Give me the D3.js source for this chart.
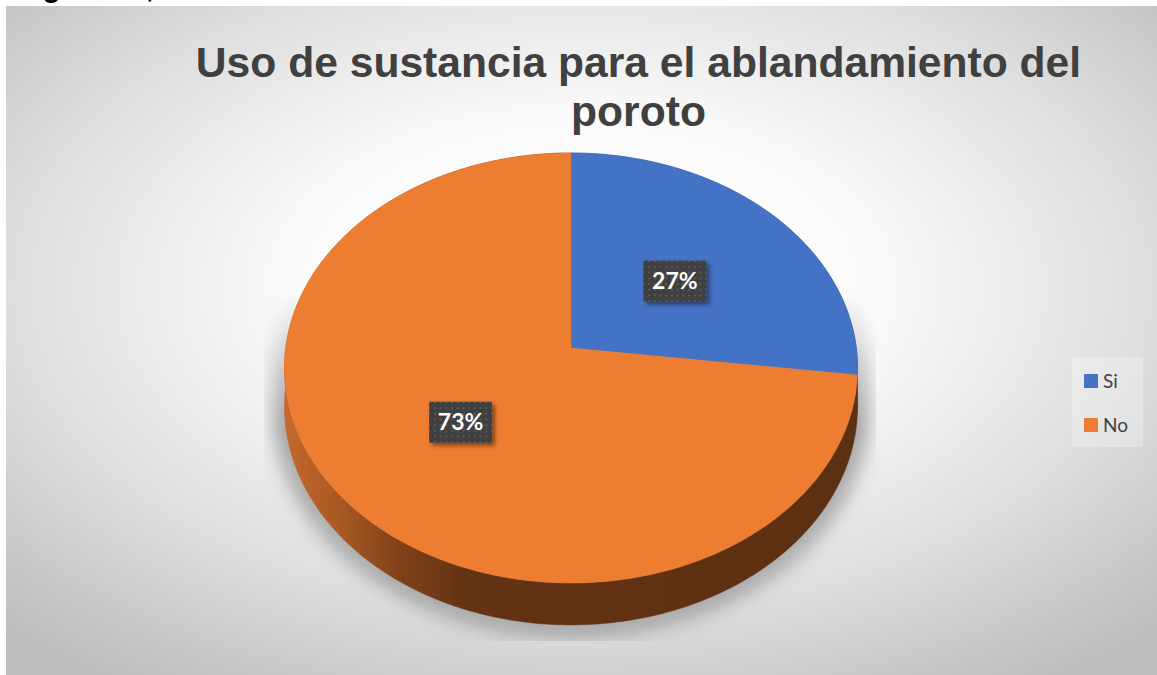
<!DOCTYPE html>
<html>
<head>
<meta charset="utf-8">
<script src="https://cdn.jsdelivr.net/npm/d3@7"></script>
<style>
  html, body { margin: 0; padding: 0; background: #ffffff; }
  svg { display: block; }
</style>
</head>
<body>
<svg id="chart" width="1157" height="675"></svg>
<script>
// Data
const categories = ["Si", "No"];
const values = [27, 73];
const labels = ["27%", "73%"];
const titleLines = ["Uso de sustancia para el ablandamiento del", "poroto"];
const topColors = ["#4472C4", "#ED7D31"];
const caption = "Figura 10,";

const svg = d3.select("#chart");
const defs = svg.append("defs");

// Chart-area background: soft radial fill
const bg = defs.append("radialGradient").attr("id", "bgGrad")
  .attr("cx", 0.5).attr("cy", 0.42).attr("r", 0.72);
[[0, "#ffffff"], [0.36, "#fafafa"], [0.68, "#dedede"], [1, "#bcbcbc"]]
  .forEach(([o, c]) => bg.append("stop").attr("offset", o).attr("stop-color", c));

// Side wall shading
const sideGrad = defs.append("linearGradient").attr("id", "sideOrange")
  .attr("gradientUnits", "userSpaceOnUse").attr("x1", 284).attr("x2", 858).attr("y1", 0).attr("y2", 0);
[[0, "#c4692d"], [0.1, "#a85823"], [0.2, "#804119"], [0.32, "#633313"], [1, "#5c3012"]]
  .forEach(([o, c]) => sideGrad.append("stop").attr("offset", o).attr("stop-color", c));
const sideBlue = defs.append("linearGradient").attr("id", "sideBlue")
  .attr("gradientUnits", "userSpaceOnUse").attr("x1", 284).attr("x2", 858).attr("y1", 0).attr("y2", 0);
[[0, "#3d64ab"], [1, "#243f70"]]
  .forEach(([o, c]) => sideBlue.append("stop").attr("offset", o).attr("stop-color", c));
const sideFills = ["url(#sideBlue)", "url(#sideOrange)"];

// Shadow blur
const blur = defs.append("filter").attr("id", "shadowBlur")
  .attr("x", "-20%").attr("y", "-20%").attr("width", "140%").attr("height", "140%");
blur.append("feGaussianBlur").attr("stdDeviation", 9);

// Shadow fades out toward the top
const fade = defs.append("linearGradient").attr("id", "fadeGrad")
  .attr("gradientUnits", "userSpaceOnUse").attr("x1", 0).attr("x2", 0).attr("y1", 290).attr("y2", 430);
fade.append("stop").attr("offset", 0).attr("stop-color", "#fff").attr("stop-opacity", 0);
fade.append("stop").attr("offset", 1).attr("stop-color", "#fff").attr("stop-opacity", 1);
const fadeMask = defs.append("mask").attr("id", "fadeMask")
  .attr("maskUnits", "userSpaceOnUse").attr("x", 0).attr("y", 0).attr("width", 1157).attr("height", 675);
fadeMask.append("rect").attr("x", 264).attr("y", 290).attr("width", 612).attr("height", 351)
  .attr("fill", "url(#fadeGrad)");

// Label box drop shadow
const boxShadow = defs.append("filter").attr("id", "boxShadow")
  .attr("x", "-20%").attr("y", "-20%").attr("width", "150%").attr("height", "160%");
boxShadow.append("feDropShadow").attr("dx", 3).attr("dy", 3).attr("stdDeviation", 2.2)
  .attr("flood-color", "#000").attr("flood-opacity", 0.45);

// Dotted pattern on label boxes
const pat = defs.append("pattern").attr("id", "dots")
  .attr("patternUnits", "userSpaceOnUse").attr("width", 5.7).attr("height", 5.7);
pat.append("rect").attr("width", 5.7).attr("height", 5.7).attr("fill", "#404040");
pat.append("rect").attr("x", 2).attr("y", 2).attr("width", 1.8).attr("height", 1.8).attr("fill", "#5b5b5b");

// Caption text above the chart area (mostly outside the page)
svg.append("text").attr("x", 17).attr("y", -3)
  .attr("font-family", "Liberation Sans, Arial, sans-serif").attr("font-weight", 700)
  .attr("font-size", 29).attr("fill", "#000").text(caption);

// Chart area
svg.append("rect").attr("x", 6).attr("y", 6).attr("width", 1151).attr("height", 669)
  .attr("fill", "url(#bgGrad)");

// Title
const title = svg.append("text").attr("text-anchor", "middle")
  .attr("font-family", "Liberation Sans, Arial, sans-serif").attr("font-weight", 700)
  .attr("font-size", 42.6).attr("fill", "#404040");
titleLines.forEach((t, i) => title.append("tspan").attr("x", 638.5).attr("y", 77 + i * 49).text(t));

// Perspective projection of the pie disc
const cx = 571, cy = 348, R = 285.3, A = 180.8, k = 0.093, depth = 38;
function proj(theta, f, z) {
  const u = f * Math.sin(theta), v = -f * Math.cos(theta);
  const w = 1 - k * v;
  return [cx + R * u / w, (cy + A * v) / w + z * depth / w];
}
function rim(a0, a1, z) {
  const n = Math.max(2, Math.ceil((a1 - a0) / (Math.PI / 360)));
  return d3.range(n + 1).map(i => proj(a0 + (a1 - a0) * i / n, 1, z));
}

const arcs = d3.pie().sort(null).value(d => d)(values);
const line = d3.line();

// Soft shadow around the disc
const shadowClip = defs.append("clipPath").attr("id", "shadowClip");
shadowClip.append("rect").attr("x", 264).attr("y", 290).attr("width", 612).attr("height", 351);
const full = d3.range(0, 721).map(i => i * Math.PI / 360);
const silhouette = full.map(t => proj(t, 1, 0));
const silBottom = full.map(t => proj(t, 1, 1));
const scaleAbout = (p) => [cx + (p[0] - cx) * 1.045, 392 + (p[1] - 392) * 1.06];
const shadowG = svg.append("g").attr("clip-path", "url(#shadowClip)").attr("mask", "url(#fadeMask)");
shadowG.append("g").attr("filter", "url(#shadowBlur)")
  .selectAll("path").data([silhouette, silBottom]).join("path")
  .attr("d", d => line(d.map(scaleAbout)) + "Z")
  .attr("fill", "#9a9a9a").attr("opacity", 0.75);

// Side walls
svg.append("g").selectAll("path").data(arcs).join("path")
  .attr("d", d => {
    const top = rim(d.startAngle, d.endAngle, 0);
    const bot = rim(d.startAngle, d.endAngle, 1).reverse();
    return line(top.concat(bot)) + "Z";
  })
  .attr("fill", (d, i) => sideFills[i])
  .attr("stroke", (d, i) => sideFills[i]).attr("stroke-width", 0.5);

// Top faces
svg.append("g").selectAll("path").data(arcs).join("path")
  .attr("d", d => line([proj(0, 0, 0)].concat(rim(d.startAngle, d.endAngle, 0))) + "Z")
  .attr("fill", (d, i) => topColors[i])
  .attr("stroke", (d, i) => topColors[i]).attr("stroke-width", 0.5);

// Data labels
const lab = svg.append("g").selectAll("g").data(arcs).join("g")
  .attr("transform", d => {
    const p = proj((d.startAngle + d.endAngle) / 2, 0.5, 0);
    return `translate(${p[0]},${p[1] + 1.5})`;
  });
lab.append("rect").attr("x", -31.5).attr("y", -20.5).attr("width", 63).attr("height", 41)
  .attr("fill", "url(#dots)").attr("filter", "url(#boxShadow)");
lab.append("text").attr("text-anchor", "middle").attr("y", 8)
  .attr("font-family", "Lato, 'Open Sans', sans-serif").attr("font-weight", 700)
  .attr("font-size", 23).attr("fill", "#ffffff")
  .text((d, i) => labels[i]);

// Legend
const legend = svg.append("g");
legend.append("rect").attr("x", 1072).attr("y", 357).attr("width", 71).attr("height", 90)
  .attr("fill", "#ffffff").attr("opacity", 0.28);
const items = legend.selectAll("g").data(categories).join("g")
  .attr("transform", (d, i) => `translate(1084, ${374 + i * 44})`);
items.append("rect").attr("width", 14).attr("height", 14).attr("fill", (d, i) => topColors[i]);
items.append("text").attr("x", 19).attr("y", 14)
  .attr("font-family", "Lato, 'Open Sans', sans-serif").attr("font-size", 19)
  .attr("fill", "#404040").text(d => d);
</script>
</body>
</html>
